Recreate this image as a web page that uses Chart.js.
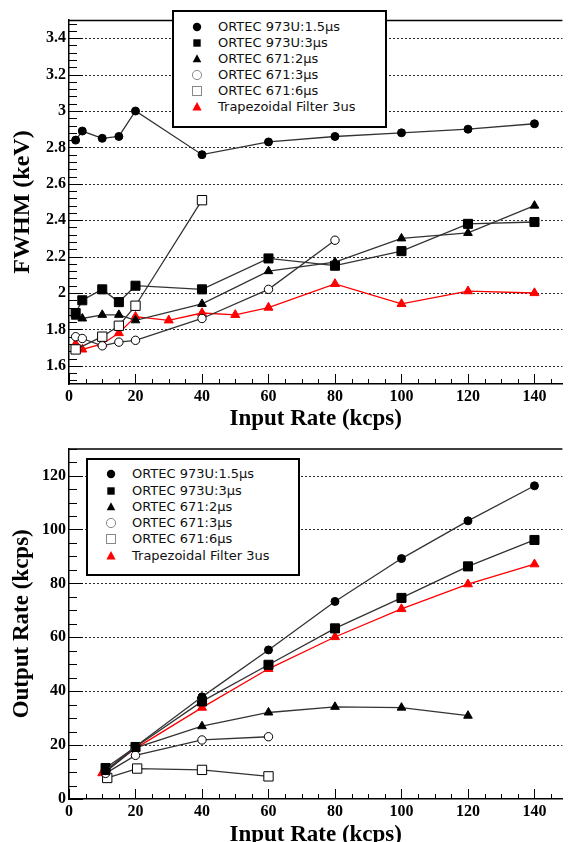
<!DOCTYPE html>
<html>
<head>
<meta charset="utf-8">
<script src="https://cdn.jsdelivr.net/npm/chart.js@4.4.1/dist/chart.umd.min.js"></script>
<style>
  html, body { margin: 0; padding: 0; background: #fff; }
  body { position: relative; width: 570px; height: 842px; overflow: hidden; }
  canvas { position: absolute; left: 0; }
  .legend { position: absolute; box-sizing: border-box; border: 2px solid #000; background: #fff; }
  .legend .txt { position: absolute; font-family: "DejaVu Sans", sans-serif; font-size: 13px; line-height: 16px; color: #111; white-space: nowrap; }
  .legend svg { position: absolute; }
</style>
</head>
<body>
<canvas id="c1" width="570" height="436" style="top:0"></canvas>
<canvas id="c2" width="570" height="420" style="top:436px"></canvas>
<div class="legend" id="lg1" style="left:172px;top:10px;width:215px;height:118px"></div>
<div class="legend" id="lg2" style="left:86px;top:458px;width:214px;height:118px"></div>
<script>
// ---------- tick labels ----------
const xTicks    = [0, 20, 40, 60, 80, 100, 120, 140];
const fwhmTicks = [1.6, 1.8, 2.0, 2.2, 2.4, 2.6, 2.8, 3.0, 3.2, 3.4];
const outTicks  = [0, 20, 40, 60, 80, 100, 120];

// ---------- series names ----------
const seriesNames = ['ORTEC 973U:1.5\u00b5s', 'ORTEC 973U:3\u00b5s', 'ORTEC 671:2\u00b5s',
                     'ORTEC 671:3\u00b5s', 'ORTEC 671:6\u00b5s', 'Trapezoidal Filter 3us'];

// ---------- top panel: FWHM (keV) vs input rate ----------
const fwhmX_973U_15 = [2, 4, 10, 15, 20, 40, 60, 80, 100, 120, 140];
const fwhmY_973U_15 = [2.84, 2.89, 2.85, 2.86, 3.00, 2.76, 2.83, 2.86, 2.88, 2.90, 2.93];
const fwhmX_973U_3  = [2, 4, 10, 15, 20, 40, 60, 80, 100, 120, 140];
const fwhmY_973U_3  = [1.89, 1.96, 2.02, 1.95, 2.04, 2.02, 2.19, 2.15, 2.23, 2.38, 2.39];
const fwhmX_671_2   = [2, 4, 10, 15, 20, 40, 60, 80, 100, 120, 140];
const fwhmY_671_2   = [1.87, 1.86, 1.88, 1.88, 1.85, 1.94, 2.12, 2.17, 2.30, 2.33, 2.48];
const fwhmX_671_3   = [2, 4, 10, 15, 20, 40, 60, 80];
const fwhmY_671_3   = [1.76, 1.75, 1.71, 1.73, 1.74, 1.86, 2.02, 2.29];
const fwhmX_671_6   = [2, 10, 15, 20, 40];
const fwhmY_671_6   = [1.69, 1.76, 1.82, 1.93, 2.51];
const fwhmX_trap    = [2, 4, 10, 15, 20, 30, 40, 50, 60, 80, 100, 120, 140];
const fwhmY_trap    = [1.72, 1.69, 1.72, 1.78, 1.87, 1.85, 1.89, 1.88, 1.92, 2.05, 1.94, 2.01, 2.00];

// ---------- bottom panel: output rate (kcps) vs input rate ----------
const outX_973U_15 = [11, 20, 40, 60, 80, 100, 120, 140];
const outY_973U_15 = [10.5, 19.5, 37.9, 55.3, 73.3, 89.2, 103.2, 116.2];
const outX_973U_3  = [11, 20, 40, 60, 80, 100, 120, 140];
const outY_973U_3  = [11.5, 19.3, 36.2, 49.8, 63.3, 74.6, 86.3, 96.1];
const outX_671_2   = [11, 20, 40, 60, 80, 100, 120];
const outY_671_2   = [10.0, 19.0, 27.0, 32.1, 34.2, 33.9, 30.9];
const outX_671_3   = [11, 20, 40, 60];
const outY_671_3   = [9.5, 16.2, 21.9, 23.1];
const outX_671_6   = [11.5, 20.5, 40, 60];
const outY_671_6   = [7.8, 11.3, 10.8, 8.4];
const outX_trap    = [10, 20, 40, 60, 80, 100, 120, 140];
const outY_trap    = [9.6, 18.8, 33.9, 48.3, 60.1, 70.5, 79.7, 87.1];

// ---------- styling ----------
const LINE = '#333';
const RED = '#ff0000';
const styles = [
  { pointStyle: 'circle',   radius: 4,   fill: '#000', stroke: '#000', line: LINE },
  { pointStyle: 'rect',     radius: 6.4, fill: '#000', stroke: '#000', line: LINE },
  { pointStyle: 'triangle', radius: 5,   fill: '#000', stroke: '#000', line: LINE },
  { pointStyle: 'circle',   radius: 4.2, fill: '#fff', stroke: '#000', line: LINE },
  { pointStyle: 'rect',     radius: 6.6, fill: '#fff', stroke: '#000', line: LINE },
  { pointStyle: 'triangle', radius: 5.2, fill: RED,    stroke: RED,    line: RED }
];

function pts(xs, ys) { return xs.map((x, i) => ({ x: x, y: ys[i] })); }

function makeDatasets(pairs) {
  return pairs.map((p, i) => {
    const s = styles[i];
    return {
      label: seriesNames[i],
      data: pts(p[0], p[1]),
      showLine: true,
      borderColor: s.line,
      borderWidth: 1.3,
      pointStyle: s.pointStyle,
      pointRadius: s.radius,
      pointBackgroundColor: s.fill,
      pointBorderColor: s.stroke,
      pointBorderWidth: 1,
      tension: 0
    };
  });
}

// ROOT-style frame: dotted horizontal grid, inward ticks, top border
const rootAxes = {
  id: 'rootAxes',
  beforeDatasetsDraw(chart, args, o) {
    const { ctx, chartArea: a, scales: { x, y } } = chart;
    ctx.save();
    ctx.lineWidth = 1;
    ctx.strokeStyle = '#2a2a2a';
    ctx.setLineDash([2, 2]);
    for (const v of o.yGrid) {
      const py = Math.round(y.getPixelForValue(v)) + 0.5;
      if (Math.abs(py - a.bottom) < 2) continue;
      ctx.beginPath(); ctx.moveTo(a.left, py); ctx.lineTo(a.right, py); ctx.stroke();
    }
    ctx.setLineDash([]);
    ctx.strokeStyle = '#000';
    ctx.lineWidth = 1;
    // x ticks (inside, upward)
    for (let i = 0; ; i++) {
      const v = x.min + i * o.xMinor;
      if (v > x.max + 1e-9) break;
      const major = Math.abs(v / o.xMajor - Math.round(v / o.xMajor)) < 1e-6;
      const px = Math.round(x.getPixelForValue(v)) + 0.5;
      const len = major ? 10 : 5;
      ctx.beginPath(); ctx.moveTo(px, a.bottom); ctx.lineTo(px, a.bottom - len); ctx.stroke();
    }
    // y ticks (inside, rightward)
    const k = Math.floor((o.yMajor0 - y.min) / o.yMinor + 1e-6);
    const y0 = o.yMajor0 - k * o.yMinor;
    for (let i = 0; ; i++) {
      const v = y0 + i * o.yMinor;
      if (v > y.max + 1e-9) break;
      const r = (v - o.yMajor0) / o.yMajor;
      const major = Math.abs(r - Math.round(r)) < 1e-6;
      const py = Math.round(y.getPixelForValue(v)) + 0.5;
      const len = major ? 14 : 8;
      ctx.beginPath(); ctx.moveTo(a.left, py); ctx.lineTo(a.left + len, py); ctx.stroke();
    }
    // top frame line
    ctx.lineWidth = 1.5;
    ctx.beginPath(); ctx.moveTo(a.left, a.top + 0.5); ctx.lineTo(a.right, a.top + 0.5); ctx.stroke();
    ctx.restore();
  }
};

const tickFont = { family: 'Liberation Serif', weight: 'bold', size: 16 };

function fmt(v) { return String(+Number(v).toFixed(2)); }

function makeChart(id, datasets, cfg) {
  return new Chart(document.getElementById(id), {
    type: 'scatter',
    data: { datasets: datasets },
    plugins: [rootAxes],
    options: {
      responsive: false,
      animation: false,
      devicePixelRatio: 1,
      layout: { padding: { top: cfg.padTop, right: 0, bottom: 0, left: 0 } },
      plugins: {
        legend: { display: false },
        tooltip: { enabled: false },
        rootAxes: cfg.axes
      },
      scales: {
        x: {
          type: 'linear',
          min: 0, max: 148.4,
          afterBuildTicks: s => { s.ticks = xTicks.map(v => ({ value: v })); },
          afterFit: s => { s.height = cfg.xHeight; },
          grid: { display: false, drawTicks: false },
          border: { display: true, color: '#000', width: 1.5 },
          ticks: { font: tickFont, color: '#000', padding: 3, maxRotation: 0, autoSkip: false, callback: v => fmt(v) },
          title: {
            display: true, text: 'Input Rate (kcps)', color: '#000',
            font: { family: 'Liberation Serif', weight: 'bold', size: 23, lineHeight: 1 },
            padding: { top: 0, bottom: cfg.xTitlePad }
          }
        },
        y: {
          type: 'linear',
          min: cfg.yMin, max: cfg.yMax,
          afterBuildTicks: s => { s.ticks = cfg.yTicks.map(v => ({ value: v })); },
          afterFit: s => { s.width = 69; },
          grid: { display: false, drawTicks: false },
          border: { display: true, color: '#000', width: 1.5 },
          ticks: { font: tickFont, color: '#000', padding: 3, autoSkip: false, callback: v => fmt(v) },
          title: {
            display: true, text: cfg.yTitle, color: '#000',
            font: { family: 'Liberation Serif', weight: 'bold', size: cfg.yTitleSize, lineHeight: 1 },
            padding: { top: 10.5, bottom: 0 }
          }
        }
      }
    }
  });
}

makeChart('c1', makeDatasets([
  [fwhmX_973U_15, fwhmY_973U_15], [fwhmX_973U_3, fwhmY_973U_3], [fwhmX_671_2, fwhmY_671_2],
  [fwhmX_671_3, fwhmY_671_3], [fwhmX_671_6, fwhmY_671_6], [fwhmX_trap, fwhmY_trap]
]), {
  padTop: 20, xHeight: 52, xTitlePad: 5,
  yMin: 1.5, yMax: 3.5, yTicks: fwhmTicks, yTitle: 'FWHM (keV)', yTitleSize: 24,
  axes: { yGrid: fwhmTicks, xMajor: 20, xMinor: 5, yMajor0: 1.6, yMajor: 0.2, yMinor: 0.04 }
});

makeChart('c2', makeDatasets([
  [outX_973U_15, outY_973U_15], [outX_973U_3, outY_973U_3], [outX_671_2, outY_671_2],
  [outX_671_3, outY_671_3], [outX_671_6, outY_671_6], [outX_trap, outY_trap]
]), {
  padTop: 2, xHeight: 57, xTitlePad: 9,
  yMin: 0, yMax: 130, yTicks: outTicks, yTitle: 'Output Rate (kcps)', yTitleSize: 23,
  axes: { yGrid: outTicks, xMajor: 20, xMinor: 5, yMajor0: 0, yMajor: 20, yMinor: 5 }
});

// ---------- HTML legends ----------
const legendMarkers = [
  '<circle cx="7" cy="7" r="4.2" fill="#000"/>',
  '<rect x="3.3" y="3.3" width="7.4" height="7.4" fill="#000"/>',
  '<polygon points="7,2.2 11.3,10.2 2.7,10.2" fill="#000"/>',
  '<circle cx="7" cy="7" r="4.6" fill="none" stroke="#888" stroke-width="1"/>',
  '<rect x="2.5" y="2.5" width="9" height="9" fill="none" stroke="#888" stroke-width="1"/>',
  '<polygon points="7,2 11.6,10.4 2.4,10.4" fill="#ff0000"/>'
];
function buildLegend(id, firstRow, rowStep) {
  const el = document.getElementById(id);
  seriesNames.forEach((name, i) => {
    const cy = firstRow + i * rowStep - 2;
    const svg = document.createElementNS('http://www.w3.org/2000/svg', 'svg');
    svg.setAttribute('width', '14'); svg.setAttribute('height', '14');
    svg.style.left = (25 - 2 - 7) + 'px';
    svg.style.top = (cy - 7) + 'px';
    svg.innerHTML = legendMarkers[i];
    el.appendChild(svg);
    const t = document.createElement('div');
    t.className = 'txt';
    t.textContent = name;
    t.style.left = (46 - 2) + 'px';
    t.style.top = (cy - 8) + 'px';
    el.appendChild(t);
  });
}
buildLegend('lg1', 16.8, 16.0);
buildLegend('lg2', 16.2, 16.3);
</script>
</body>
</html>
